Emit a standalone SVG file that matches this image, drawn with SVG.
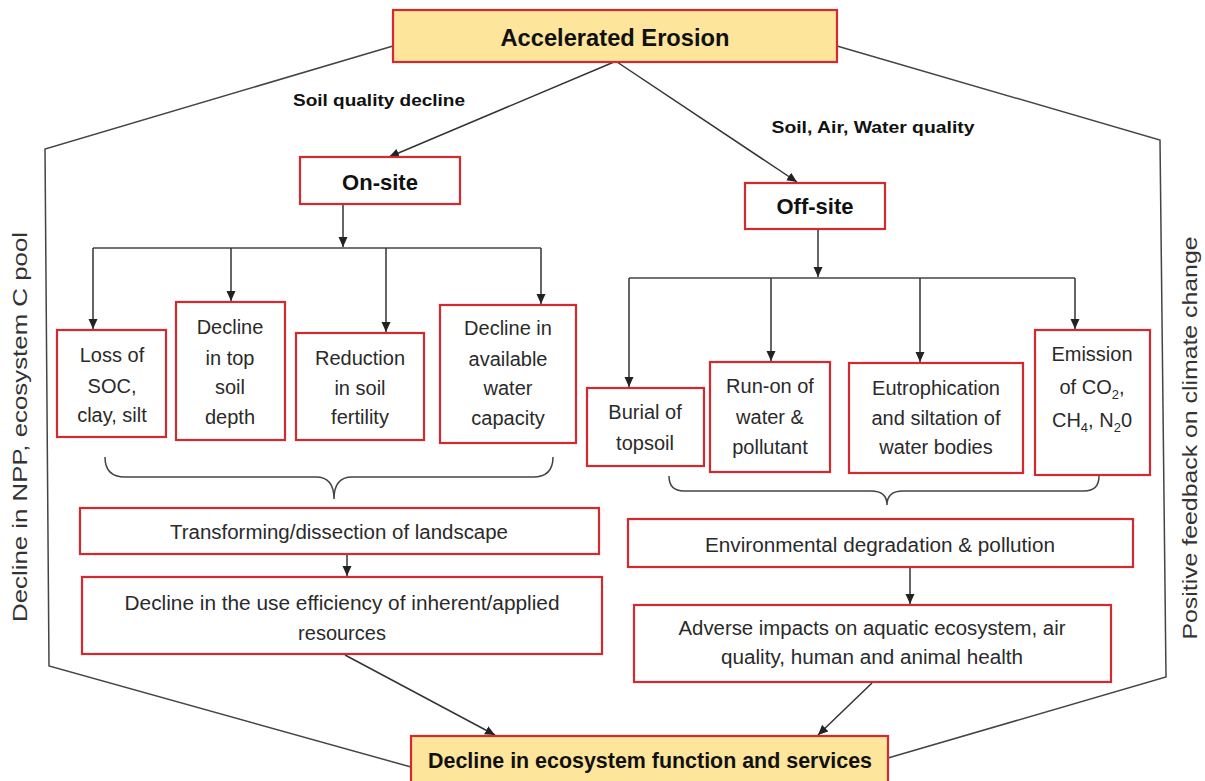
<svg xmlns="http://www.w3.org/2000/svg" width="1205" height="781" viewBox="0 0 1205 781">
<defs>
<marker id="arr" markerUnits="userSpaceOnUse" markerWidth="10" markerHeight="10" refX="10" refY="5" orient="auto">
<path d="M0,0.5 L10,5 L0,9.5 z" fill="#222"/>
</marker>
<style>
.box{fill:#fff;stroke:#d42a2f;stroke-width:2.2}
.key{fill:#fde59b;stroke:#d42a2f;stroke-width:2.2}
.t{font-family:"Liberation Sans",Arial,sans-serif;font-size:20px;fill:#2a2a2a;text-anchor:middle}
.b{font-family:"Liberation Sans",Arial,sans-serif;font-weight:bold;fill:#111;text-anchor:middle}
.ln{fill:none;stroke:#444;stroke-width:1.5}
.ar{fill:none;stroke:#333;stroke-width:1.5;marker-end:url(#arr)}
.side{font-family:"Liberation Sans",Arial,sans-serif;font-size:21px;fill:#333;text-anchor:middle}
</style>
</defs>
<rect width="1205" height="781" fill="#fff"/>

<g id="connectors">
<path class="ln" d="M393,46 L45,149 L49,666 L411,767"/>
<path class="ln" d="M837,46 L1160,140 L1166,677 L888,758"/>
<path class="ar" d="M614,62 L389,157"/>
<path class="ar" d="M617,62 L797,182"/>
<path class="ar" d="M343,205 L343,247"/>
<path class="ln" d="M93,248 L541,248"/>
<path class="ar" d="M93,248 L93,329"/>
<path class="ar" d="M231,248 L231,301"/>
<path class="ar" d="M386,248 L386,332"/>
<path class="ar" d="M541,248 L541,304"/>
<path class="ar" d="M818,230 L818,277"/>
<path class="ln" d="M629,278 L1075,278"/>
<path class="ar" d="M629,278 L629,387"/>
<path class="ar" d="M771,278 L771,361"/>
<path class="ar" d="M920,278 L920,362"/>
<path class="ar" d="M1075,278 L1075,329"/>
<path class="ln" d="M105,457 Q105,477 125,477 L316,477 Q334,477 334,499 Q334,477 352,477 L533,477 Q553,477 553,457"/>
<path class="ln" d="M669,476 Q669,491 684,491 L871,491 Q887,491 887,505 Q887,491 903,491 L1084,491 Q1099,491 1099,476"/>
<path class="ar" d="M347,555 L347,576"/>
<path class="ar" d="M910,568 L910,604"/>
<path class="ar" d="M345,655 L495,735"/>
<path class="ar" d="M872,683 L818,735"/>
</g>

<g id="accelerated-erosion">
<rect class="key" x="393" y="10" width="444" height="52"/>
<text class="b" x="615" y="46" font-size="24" textLength="229" lengthAdjust="spacingAndGlyphs">Accelerated Erosion</text>
</g>
<g id="label-soil-quality">
<text class="b" x="379" y="106" font-size="16" textLength="172" lengthAdjust="spacingAndGlyphs">Soil quality decline</text>
</g>
<g id="label-saw-quality">
<text class="b" x="873" y="133" font-size="16" textLength="203" lengthAdjust="spacingAndGlyphs">Soil, Air, Water quality</text>
</g>
<g id="on-site">
<rect class="box" x="300" y="157" width="160" height="47"/>
<text class="b" x="380" y="190" font-size="22">On-site</text>
</g>
<g id="off-site">
<rect class="box" x="745" y="183" width="140" height="46"/>
<text class="b" x="815" y="214" font-size="22">Off-site</text>
</g>

<g id="loss-soc">
<rect class="box" x="57" y="330" width="109" height="107"/>
<text class="t" x="112" y="362">Loss of</text>
<text class="t" x="112" y="393">SOC,</text>
<text class="t" x="112" y="422">clay, silt</text>
</g>
<g id="decline-topsoil">
<rect class="box" x="176" y="302" width="109" height="138"/>
<text class="t" x="230" y="334">Decline</text>
<text class="t" x="230" y="365">in top</text>
<text class="t" x="230" y="394">soil</text>
<text class="t" x="230" y="424">depth</text>
</g>
<g id="reduction-fertility">
<rect class="box" x="296" y="333" width="128" height="107"/>
<text class="t" x="360" y="365">Reduction</text>
<text class="t" x="360" y="395">in soil</text>
<text class="t" x="360" y="424">fertility</text>
</g>
<g id="decline-awc">
<rect class="box" x="440" y="305" width="136" height="138"/>
<text class="t" x="508" y="335">Decline in</text>
<text class="t" x="508" y="366">available</text>
<text class="t" x="508" y="395">water</text>
<text class="t" x="508" y="425">capacity</text>
</g>

<g id="burial">
<rect class="box" x="587" y="388" width="117" height="78"/>
<text class="t" x="645" y="419">Burial of</text>
<text class="t" x="645" y="450">topsoil</text>
</g>
<g id="run-on">
<rect class="box" x="710" y="362" width="120" height="110"/>
<text class="t" x="770" y="393">Run-on of</text>
<text class="t" x="770" y="424">water &amp;</text>
<text class="t" x="770" y="454">pollutant</text>
</g>
<g id="eutrophication">
<rect class="box" x="849" y="363" width="174" height="110"/>
<text class="t" x="936" y="395">Eutrophication</text>
<text class="t" x="936" y="425">and siltation of</text>
<text class="t" x="936" y="454">water bodies</text>
</g>
<g id="emission">
<rect class="box" x="1035" y="330" width="115" height="145"/>
<text class="t" x="1092" y="361">Emission</text>
<text class="t" x="1092" y="394">of CO<tspan font-size="13" dy="5">2</tspan><tspan dy="-5">,</tspan></text>
<text class="t" x="1092" y="427">CH<tspan font-size="13" dy="5">4</tspan><tspan dy="-5">, N</tspan><tspan font-size="13" dy="5">2</tspan><tspan dy="-5">0</tspan></text>
</g>

<g id="transforming">
<rect class="box" x="80" y="508" width="519" height="46"/>
<text class="t" x="339" y="539" textLength="338" lengthAdjust="spacingAndGlyphs">Transforming/dissection of landscape</text>
</g>
<g id="use-efficiency">
<rect class="box" x="82" y="577" width="520" height="77"/>
<text class="t" x="342" y="610" textLength="435" lengthAdjust="spacingAndGlyphs">Decline in the use efficiency of inherent/applied</text>
<text class="t" x="342" y="640">resources</text>
</g>
<g id="env-degradation">
<rect class="box" x="628" y="519" width="505" height="48"/>
<text class="t" x="880" y="552" textLength="350" lengthAdjust="spacingAndGlyphs">Environmental degradation &amp; pollution</text>
</g>
<g id="adverse-impacts">
<rect class="box" x="634" y="605" width="477" height="77"/>
<text class="t" x="872" y="635" textLength="387" lengthAdjust="spacingAndGlyphs">Adverse impacts on aquatic ecosystem, air</text>
<text class="t" x="872" y="664" textLength="302" lengthAdjust="spacingAndGlyphs">quality, human and animal health</text>
</g>
<g id="decline-ecosystem">
<rect class="key" x="411" y="736" width="477" height="60"/>
<text class="b" x="650" y="768" font-size="22" textLength="444" lengthAdjust="spacingAndGlyphs">Decline in ecosystem function and services</text>
</g>

<g id="side-left">
<text class="side" transform="translate(27,427) rotate(-90)" textLength="390" lengthAdjust="spacingAndGlyphs">Decline in NPP, ecosystem C pool</text>
</g>
<g id="side-right">
<text class="side" transform="translate(1197,438) rotate(-90)" textLength="403" lengthAdjust="spacingAndGlyphs">Positive feedback on climate change</text>
</g>
</svg>
